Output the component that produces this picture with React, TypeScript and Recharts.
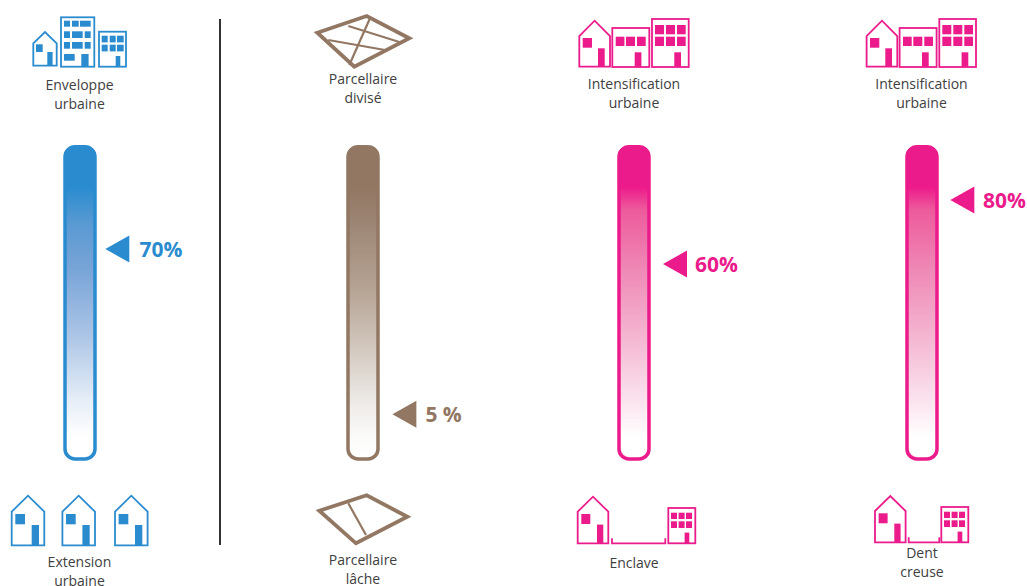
import React from "react";
import { ComposedChart, Bar, Line, XAxis, YAxis } from "recharts";

// Gauge readings, left to right
const gaugeNames = ["Enveloppe urbaine", "Parcellaire divisé", "Enclave", "Dent creuse"];
const gaugeValues = [70, 5, 60, 80];
const gaugeLabels = ["70%", "5 %", "60%", "80%"];
// Lower end of each gauge's own axis; every gauge tops out at 100
const gaugeFloors = [8.4, -10.9, -6.5, -17.3];
const gaugeColors = ["#2a8ccf", "#927763", "#ec1b8b", "#ec1b8b"];
const GAUGE_MAX = 100;

const BLUE = gaugeColors[0];
const BROWN = gaugeColors[1];
const PINK = gaugeColors[2];

const WIDTH = 1027;
const HEIGHT = 586;
const FONT = "'Open Sans', sans-serif";
const LINE = 1.8;

// Fade ramps per gauge, from solid at the top to white near the bottom
const rampStops = [
  [[0, "#2a8ccf"], [0.13, "#2a8ccf"], [0.25, "#5a9ad2"], [0.4, "#7aa5d8"], [0.61, "#adc6e6"], [0.82, "#e8eff8"], [0.93, "#ffffff"], [1, "#ffffff"]],
  [[0, "#927763"], [0.13, "#927763"], [0.25, "#9d8675"], [0.45, "#b5a293"], [0.6, "#cbbfb4"], [0.8, "#ebe7e3"], [0.93, "#fbfbfa"], [1, "#ffffff"]],
  [[0, "#ec1b8b"], [0.13, "#ec1b8b"], [0.2, "#ed5a9c"], [0.4, "#ef8ab6"], [0.6, "#f4b4d0"], [0.8, "#fae0ec"], [0.93, "#ffffff"], [1, "#ffffff"]],
  [[0, "#ec1b8b"], [0.13, "#ec1b8b"], [0.2, "#ed5a9c"], [0.4, "#ef8ab6"], [0.6, "#f4b4d0"], [0.8, "#fae0ec"], [0.93, "#ffffff"], [1, "#ffffff"]],
];

// Gauge layout: centre x, distance to the pointer tip, distance to the label
const gaugeLayout = [
  { cx: 79.7, tip: 25.3, text: 59.6 },
  { cx: 363.3, tip: 29.4, text: 62.4 },
  { cx: 634, tip: 29, text: 61 },
  { cx: 921.7, tip: 28.3, text: 61 },
];

function Pointer(props: any) {
  const { cx, cy, color, tip, text, label } = props;
  if (cx == null || cy == null) return null;
  return (
    <g>
      <polygon
        points={`${cx + tip},${cy} ${cx + tip + 24},${cy - 13.5} ${cx + tip + 24},${cy + 13.5}`}
        fill={color}
      />
      <text x={cx + text} y={cy + 8} fontFamily={FONT} fontWeight={700} fontSize={21} fill={color}>
        {label}
      </text>
    </g>
  );
}

function Gauge({ index }: { index: number }) {
  const { cx, tip, text } = gaugeLayout[index];
  const color = gaugeColors[index];
  const floor = gaugeFloors[index];
  const rows = [{ name: gaugeNames[index], track: [floor, GAUGE_MAX], value: gaugeValues[index] }];
  const left = 40;
  const id = `ramp-${index}`;
  return (
    <div style={{ position: "absolute", left: cx - left, top: 0 }}>
      <ComposedChart
        width={left + 105.3}
        height={HEIGHT}
        data={rows}
        margin={{ top: 146.75, bottom: 127, left: 0, right: 105.3 - left }}
      >
        <defs>
          <linearGradient id={id} x1="0" y1="0" x2="0" y2="1">
            {rampStops[index].map(([o, c]) => (
              <stop key={String(o)} offset={o as number} stopColor={c as string} />
            ))}
          </linearGradient>
        </defs>
        <XAxis dataKey="name" hide />
        <YAxis hide domain={[floor, GAUGE_MAX]} />
        <Bar
          dataKey="track"
          barSize={30}
          fill={`url(#${id})`}
          stroke={color}
          strokeWidth={3.5}
          radius={10}
          isAnimationActive={false}
        />
        <Line
          dataKey="value"
          stroke="none"
          isAnimationActive={false}
          dot={(p: any) => (
            <Pointer key="pointer" cx={p.cx} cy={p.cy} color={color} tip={tip} text={text} label={gaugeLabels[index]} />
          )}
        />
      </ComposedChart>
    </div>
  );
}

function Caption({ x, y, lines }: { x: number; y: number; lines: string[] }) {
  return (
    <text textAnchor="middle" fontFamily={FONT} fontSize={14} fill="#404040">
      {lines.map((line, i) => (
        <tspan key={line} x={x} y={y + i * 19}>
          {line}
        </tspan>
      ))}
    </text>
  );
}

function House({ x, base, w, eaves, apex, win, door, color }: any) {
  const mid = x + w / 2;
  return (
    <g>
      <polygon
        points={`${x},${base} ${x},${eaves} ${mid},${apex} ${x + w},${eaves} ${x + w},${base}`}
        fill="#fff"
        stroke={color}
        strokeWidth={LINE}
      />
      <rect x={x + win[0]} y={eaves + win[1]} width={win[2]} height={win[3]} fill={color} />
      <rect x={x + door[0]} y={door[1]} width={door[2]} height={base - door[1]} fill={color} />
    </g>
  );
}

function Block({ x, y, w, h, color, panes, door }: any) {
  return (
    <g>
      <rect x={x} y={y} width={w} height={h} fill="#fff" stroke={color} strokeWidth={LINE} />
      {panes.map((p: number[], i: number) => (
        <rect key={i} x={p[0]} y={p[1]} width={p[2]} height={p[3]} fill={color} />
      ))}
      <rect x={door[0]} y={door[1]} width={door[2]} height={door[3]} fill={color} />
    </g>
  );
}

function UrbanRow({ dx }: { dx: number }) {
  const c = PINK;
  return (
    <g transform={`translate(${dx},0)`}>
      <House x={579.3} base={66.7} w={30.7} eaves={36} apex={20.7} win={[3.4, 2, 9.3, 9.7]} door={[18.7, 48.3, 6.7]} color={c} />
      <Block
        x={612.3} y={28} w={37} h={39} color={c}
        panes={[
          [615.7, 36.7, 8.7, 9.3], [626, 36.7, 9, 9.3], [637, 36.7, 8.7, 9.3],
        ]}
        door={[634.7, 52.3, 6.7, 14.4]}
      />
      <Block
        x={652} y={19} w={36.7} h={48} color={c}
        panes={[
          [655, 25, 9, 9.3], [666, 25, 9, 9.3], [677, 25, 8.7, 9.3],
          [655, 36.7, 9, 9.3], [666, 36.7, 9, 9.3], [677, 36.7, 8.7, 9.3],
        ]}
        door={[674.3, 52.3, 6.7, 14.4]}
      />
    </g>
  );
}

function GapRow({ houseX, base, eaves, apex, gapX, gapW, blockX }: any) {
  const c = PINK;
  const top = base - 35.3;
  return (
    <g>
      <House x={houseX} base={base} w={30.6} eaves={eaves} apex={apex} win={[3.6, 2.3, 9, 10]} door={[19.3, base - 18.7, 6.3]} color={c} />
      <polyline points={`${gapX},${base - 5} ${gapX},${base} ${gapX + gapW},${base} ${gapX + gapW},${base - 5}`} fill="none" stroke={c} strokeWidth={LINE} />
      <Block
        x={blockX} y={top} w={27} h={35.3} color={c}
        panes={[
          [blockX + 2.7, top + 4.7, 6, 6.3], [blockX + 10.3, top + 4.7, 6, 6.3], [blockX + 17.7, top + 4.7, 6, 6.3],
          [blockX + 2.7, top + 13.3, 6, 6.7], [blockX + 10.3, top + 13.3, 6, 6.7], [blockX + 17.7, top + 13.3, 6, 6.7],
        ]}
        door={[blockX + 16.3, base - 10.7, 4.7, 10.7]}
      />
    </g>
  );
}

function Artwork() {
  const c = BLUE;
  return (
    <svg width={WIDTH} height={HEIGHT} style={{ position: "absolute", left: 0, top: 0 }}>
      {/* Divider between the first gauge and the other three */}
      <line x1={220} y1={19} x2={220} y2={545} stroke="#333333" strokeWidth={2} />

      {/* Blue column */}
      <House x={33.3} base={65.7} w={23.4} eaves={43.3} apex={32} win={[2.7, 1, 6.7, 7.7]} door={[14, 52, 5.3]} color={c} />
      <Block
        x={61} y={17.3} w={33.3} h={49.4} color={c}
        panes={[
          [64, 20.7, 6, 6], [72, 20.7, 6.7, 6], [80, 20.7, 10.7, 6],
          [64, 31.3, 6, 6.7], [72, 31.3, 10.7, 6.7], [84.7, 31.3, 6, 6.7],
          [64, 42, 6, 6.7], [72, 42, 10.7, 6.7], [84.7, 42, 6, 6.7],
          [64, 54, 10.7, 6.7],
        ]}
        door={[81.3, 54, 7.3, 12]}
      />
      <Block
        x={99} y={31.7} w={27} h={35} color={c}
        panes={[
          [101.7, 35.7, 6, 6.7], [109.7, 35.7, 6, 6.7], [117, 35.7, 6.7, 6.7],
          [101.7, 44.7, 6, 6.7], [109.7, 44.7, 6, 6.7], [117, 44.7, 6.7, 6.7],
        ]}
        door={[115.7, 56, 4.6, 10]}
      />
      {[11.7, 62.4, 115].map((x) => (
        <House key={x} x={x} base={545.3} w={32.6} eaves={511.7} apex={495.7} win={[3.6, 2.3, 9.7, 10.3]} door={[20, 525, 7.3]} color={c} />
      ))}
      <Caption x={79.5} y={566.5} lines={["Extension", "urbaine"]} />
      <Caption x={79.5} y={90} lines={["Enveloppe", "urbaine"]} />

      {/* Brown column: plot patterns */}
      <g fill="none" stroke={BROWN}>
        <polygon points="317.3,32.7 366.7,16 409.3,38.3 354.3,66.7" strokeWidth={3.8} />
        <line x1={348.3} y1={26} x2={401.7} y2={42.7} strokeWidth={2.2} />
        <line x1={370} y1={18.3} x2={349.3} y2={65} strokeWidth={2.2} />
        <line x1={328.3} y1={40} x2={385} y2={50} strokeWidth={2.2} />
        <polygon points="319.3,510.7 366.7,495.3 407.3,516.7 356,543.3" strokeWidth={3.8} />
        <line x1={348.3} y1={503.3} x2={366} y2={535} strokeWidth={2.2} />
      </g>
      <Caption x={363} y={83.5} lines={["Parcellaire", "divisé"]} />
      <Caption x={363} y={564.5} lines={["Parcellaire", "lâche"]} />

      {/* Pink columns */}
      <UrbanRow dx={0} />
      <UrbanRow dx={287.3} />
      <GapRow houseX={577.7} base={543.3} eaves={511.7} apex={496.7} gapX={612} gapW={53.3} blockX={668.3} />
      <GapRow houseX={875} base={542.3} eaves={511} apex={496} gapX={908.7} gapW={30.6} blockX={941.3} />
      <Caption x={634} y={88.5} lines={["Intensification", "urbaine"]} />
      <Caption x={921.5} y={88.5} lines={["Intensification", "urbaine"]} />
      <Caption x={634} y={567.5} lines={["Enclave"]} />
      <Caption x={922} y={558} lines={["Dent", "creuse"]} />
    </svg>
  );
}

export default function App() {
  return (
    <div style={{ position: "absolute", left: 0, top: 0, width: WIDTH, height: HEIGHT, overflow: "hidden", background: "#fff" }}>
      <Artwork />
      {gaugeValues.map((_, i) => (
        <Gauge key={gaugeNames[i]} index={i} />
      ))}
    </div>
  );
}
